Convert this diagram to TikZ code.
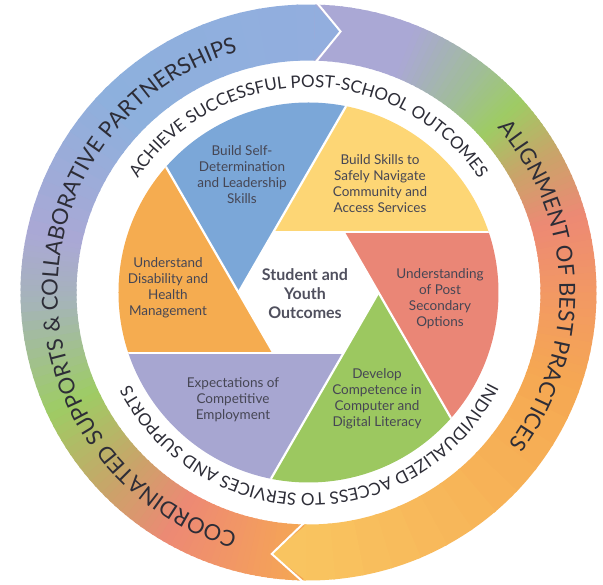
\documentclass[tikz,border=0pt]{standalone}
\usepackage{fontspec}
\setmainfont{Lato}
\usetikzlibrary{decorations.text}
\definecolor{cblue}{RGB}{123,167,216}
\definecolor{cyel}{RGB}{253,214,117}
\definecolor{cred}{RGB}{234,134,118}
\definecolor{cgreen}{RGB}{156,200,96}
\definecolor{cpurple}{RGB}{167,166,209}
\definecolor{corange}{RGB}{245,172,80}
\definecolor{rblue}{RGB}{141,176,221}
\definecolor{rblue2}{RGB}{146,174,222}
\definecolor{rlav}{RGB}{170,168,213}
\definecolor{rgreen}{RGB}{158,204,100}
\definecolor{rgray}{RGB}{165,180,185}
\definecolor{rgg}{RGB}{160,190,150}
\definecolor{rolive}{RGB}{200,165,105}
\definecolor{rsalmon}{RGB}{237,137,116}
\definecolor{rorsal}{RGB}{242,152,100}
\definecolor{rorange}{RGB}{245,168,82}
\definecolor{rlight}{RGB}{249,196,96}
\definecolor{ringtext}{RGB}{45,45,55}
\definecolor{bladetext}{RGB}{70,70,84}
\definecolor{centertext}{RGB}{80,80,94}
\def\Rin{232}
\def\Rout{288}
\newcommand\ringseg[4]{%
  \foreach \ri in {0,...,11}{%
    \pgfmathsetmacro\angA{#1+(#2-#1)*\ri/12}%
    \pgfmathsetmacro\angB{#1+(#2-#1)*(\ri+1)/12-0.5}%
    \pgfmathsetmacro\pct{100*(\ri+0.5)/12}%
    \fill[#4!\pct!#3] (\angA:\Rin) arc[start angle=\angA, end angle=\angB, radius=\Rin] -- (\angB:\Rout) arc[start angle=\angB, end angle=\angA, radius=\Rout] -- cycle;
  }%
}
\tikzset{
  blade/.style={align=center, text=bladetext, font=\fontsize{13.5}{16}\selectfont, inner sep=0pt},
  hub/.style={align=center, text=centertext, font=\bfseries\fontsize{16}{19}\selectfont, inner sep=0pt},
  chevron/.style={white, line width=2pt, line join=miter},
  sep/.style={white, line width=2.2pt}
}
\begin{document}
\begin{tikzpicture}[x=1pt,y=1pt]
\fill[white] (-308.5,-292.5) rectangle (294.5,292.5);
\useasboundingbox (-308.5,-292.5) rectangle (294.5,292.5);
% left band
\ringseg{269.5}{255}{rorange}{rorsal}
\ringseg{255}{240}{rorsal}{rsalmon}
\ringseg{240}{224}{rsalmon}{rolive}
\ringseg{224}{205}{rolive}{rgreen}
\ringseg{205}{182}{rgreen}{rgray}
\ringseg{182}{168}{rgray}{rlav}
\ringseg{168}{135}{rlav}{rblue}
\ringseg{135}{88.7}{rblue}{rblue2}
% right band
\ringseg{88.7}{68}{rlav}{rlav}
\ringseg{68}{52}{rlav}{rgg}
\ringseg{52}{42}{rgg}{rgreen}
\ringseg{42}{30}{rgreen}{rolive}
\ringseg{30}{16}{rolive}{rsalmon}
\ringseg{16}{0}{rsalmon}{rorsal}
\ringseg{0}{-20}{rorsal}{rorange}
\ringseg{-20}{-90.5}{rorange}{rlight}
% arrow heads
\fill[rblue2] (88.7:288) -- (83:263) -- (88.7:232) -- cycle;
\draw[chevron] (88.7:292) -- (83:263) -- (88.7:228);
\fill[rlight] (-90.5:288) -- (-98:264) -- (-90.5:232) -- cycle;
\draw[chevron] (-90.5:292) -- (-98:264) -- (-90.5:228);
% blades
\begin{scope}
\clip (0,0) circle (190);
\foreach \a/\col in {120/cyel,180/cblue,240/corange,300/cpurple,0/cgreen,60/cred}
  \fill[\col] (\a:70) -- ++({\a-120}:600) -- ++(\a:600) -- cycle;
\foreach \a in {0,60,...,300}
  \draw[sep] (\a:70) -- ++({\a-120}:400);
\end{scope}
% ring texts
\path[decorate, decoration={text along path, text align=center, text={|\fontsize{22}{22}\selectfont\color{ringtext}|COORDINATED SUPPORTS {\&} COLLABORATIVE PARTNERSHIPS}}] (265:251) arc[start angle=265, end angle=95, radius=251];
\path[decorate, decoration={text along path, text align=center, text={|\fontsize{22}{22}\selectfont\color{ringtext}|ALIGNMENT OF BEST PRACTICES}}] (50:251) arc[start angle=50, end angle=-46, radius=251];
\path[decorate, decoration={text along path, text align=center, text={|\fontsize{17}{17}\selectfont\color{ringtext}|ACHIEVE SUCCESSFUL POST-SCHOOL OUTCOMES}}] (165:205) arc[start angle=165, end angle=15, radius=205];
\path[decorate, decoration={text along path, text align=center, text={|\fontsize{17}{17}\selectfont\color{ringtext}|INDIVIDUALIZED ACCESS TO SERVICES AND SUPPORTS}}] (-5:201) arc[start angle=-5, end angle=-174.2, radius=201];
% blade texts
\node[blade] (tblue) at (-66.5,117.5) {Build Self-\\Determination\\and Leadership\\Skills};
\node[blade] (tyel) at (71.5,108.5) {Build Skills to\\Safely Navigate\\Community and\\Access Services};
\node[blade] (tred) at (131.5,-6.5) {Understanding\\of Post\\Secondary\\Options};
\node[blade] (tgreen) at (68.5,-106.5) {Develop\\Competence in\\Computer and\\Digital Literacy};
\node[blade] (tpurple) at (-75.5,-107.5) {Expectations of\\Competitive\\Employment};
\node[blade] (torange) at (-140.5,4.5) {Understand\\Disability and\\Health\\Management};
\node[hub] (hub) at (-3.5,-1.5) {Student and\\Youth\\Outcomes};
\end{tikzpicture}
\end{document}
